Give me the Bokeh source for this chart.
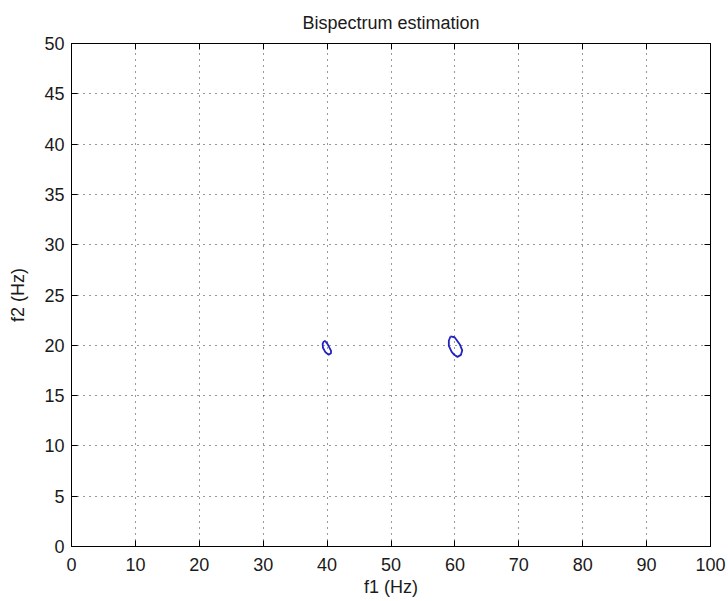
from bokeh.plotting import figure
from bokeh.models import Range1d, FixedTicker, LinearAxis
from bokeh.embed import file_html
from bokeh.resources import INLINE

# ---- data ----
x_ticks = [0, 10, 20, 30, 40, 50, 60, 70, 80, 90, 100]
y_ticks = [0, 5, 10, 15, 20, 25, 30, 35, 40, 45, 50]

# contour around (f1=40, f2=20)
c1_f1 = [39.50, 39.30, 39.35, 39.75, 40.25, 40.60, 40.62, 40.30, 40.00, 39.70, 39.50]
c1_f2 = [20.42, 20.15, 19.75, 19.30, 19.06, 19.20, 19.45, 19.85, 20.20, 20.42, 20.42]
# contour around (f1=60, f2=20)
c2_f1 = [59.30, 59.05, 59.05, 59.50, 59.90, 60.40, 60.95, 61.15, 60.80, 60.30, 59.95, 59.30]
c2_f2 = [20.88, 20.45, 19.95, 19.35, 19.05, 18.85, 19.05, 19.50, 20.05, 20.50, 20.80, 20.88]

FONT = "Liberation Sans"
TXT = "#1a1a1a"

p = figure(width=728, height=601, output_backend="svg", toolbar_location=None,
           x_range=Range1d(0, 100), y_range=Range1d(0, 50),
           min_border_left=71, min_border_right=18, min_border_top=43, min_border_bottom=55,
           title="Bispectrum estimation")

p.title.text_font = FONT
p.title.text_font_size = "18px"
p.title.text_font_style = "normal"
p.title.text_color = TXT
p.title.align = "center"
p.title.standoff = 21

p.outline_line_color = "#000000"
p.outline_line_width = 1
p.background_fill_color = "white"
p.border_fill_color = "white"

for ax, tk in ((p.xaxis[0], x_ticks), (p.yaxis[0], y_ticks)):
    ax.ticker = FixedTicker(ticks=tk)
    ax.major_tick_in = 6
    ax.major_tick_out = 0
    ax.minor_tick_in = 0
    ax.minor_tick_out = 0
    ax.axis_line_color = "#000000"
    ax.major_tick_line_color = "#000000"
    ax.major_label_text_font = FONT
    ax.major_label_text_font_size = "18px"
    ax.major_label_text_color = TXT
    ax.axis_label_text_font = FONT
    ax.axis_label_text_font_size = "18px"
    ax.axis_label_text_font_style = "normal"
    ax.axis_label_text_color = TXT

p.xaxis[0].major_label_standoff = 11
p.yaxis[0].major_label_standoff = 7
p.xaxis[0].axis_label = "f1 (Hz)"
p.yaxis[0].axis_label = "f2 (Hz)"
p.xaxis[0].axis_label_standoff = 3
p.yaxis[0].axis_label_standoff = 13

for loc, tk in (("above", x_ticks), ("right", y_ticks)):
    a = LinearAxis(ticker=FixedTicker(ticks=tk))
    a.major_tick_in = 6
    a.major_tick_out = 0
    a.minor_tick_in = 0
    a.minor_tick_out = 0
    a.major_label_overrides = {t: "" for t in tk}
    a.major_label_standoff = 0
    a.axis_line_color = "#000000"
    a.major_tick_line_color = "#000000"
    p.add_layout(a, loc)

p.xgrid.ticker = FixedTicker(ticks=x_ticks)
p.ygrid.ticker = FixedTicker(ticks=y_ticks)
for g in (p.xgrid, p.ygrid):
    g.grid_line_color = "#333333"
    g.grid_line_width = 1
    g.grid_line_dash = "1 5"

p.line(c1_f1, c1_f2, line_color="#2222c0", line_width=1.8)
p.line(c2_f1, c2_f2, line_color="#2222c0", line_width=1.8)

open("out.html", "w").write(file_html(p, INLINE))
